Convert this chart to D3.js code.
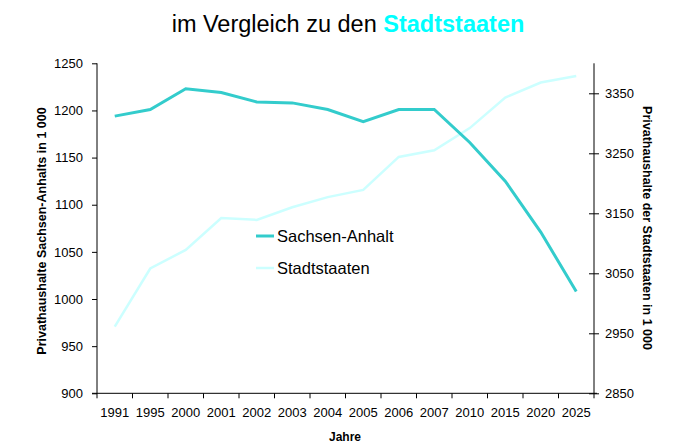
<!DOCTYPE html>
<html><head><meta charset="utf-8">
<script src="https://cdn.jsdelivr.net/npm/d3@7"></script>
<style>body{margin:0;background:#fff}svg{display:block;font-family:"Liberation Sans",Arial,sans-serif}</style>
</head><body><svg id="c" width="681" height="448"></svg>
<script>
const years = ["1991","1995","2000","2001","2002","2003","2004","2005","2006","2007","2010","2015","2020","2025"];
const sachsenAnhalt = [1194,1201,1223,1219,1209,1208,1201,1188,1201,1201,1166,1125,1071,1008];
const stadtstaaten = [2961,3058,3089,3142,3139,3160,3177,3189,3244,3255,3292,3343,3368,3379];
const leftTicks = [900,950,1000,1050,1100,1150,1200,1250];
const rightTicks = [2850,2950,3050,3150,3250,3350];

const svg = d3.select("#c");
const L = 97, R = 594, T = 63.3, B = 393.3;
const x = d3.scaleBand().domain(years).range([L, R]);
const yL = d3.scaleLinear().domain([900,1250]).range([B, T]);
const yR = d3.scaleLinear().domain([2850,3400]).range([B, T]);

// Title
const title = svg.append("text").attr("x", 348).attr("y", 32).attr("text-anchor","middle").style("font-size","23.5px");
title.append("tspan").attr("fill","#000").text("im Vergleich zu den ");
title.append("tspan").attr("fill","#00ffff").attr("font-weight","bold").text("Stadtstaaten");

// Left axis
const gl = svg.append("g").attr("transform",`translate(${L},0)`)
  .call(d3.axisLeft(yL).tickValues(leftTicks).tickSize(5).tickPadding(9).tickFormat(d3.format("d")));
gl.selectAll("text").style("font-size","13px").attr("fill","#000");
gl.select(".domain").attr("stroke","#000").attr("d",`M0,${T}V${B+5}`);

// Right axis
const gr = svg.append("g").attr("transform",`translate(${R},0)`)
  .call(d3.axisRight(yR).tickValues(rightTicks).tickSize(5).tickPadding(6).tickFormat(d3.format("d")));
gr.selectAll("text").style("font-size","13px").attr("fill","#000");
gr.selectAll(".tick line").attr("x1",-5).attr("x2",5);
gr.select(".domain").attr("stroke","#000").attr("d",`M0,${T}V${B}`);

// X axis
const gx = svg.append("g").attr("transform",`translate(0,${B})`)
  .call(d3.axisBottom(x).tickSize(0).tickPadding(14));
gx.selectAll("text").style("font-size","13px").attr("fill","#000");
gx.select(".domain").attr("stroke","#000").attr("d",`M${L-5},0H${R+3}`);
gx.selectAll(".xt").data(years).enter().append("line")
  .attr("x1",(d,i)=>L+(i+1)*x.bandwidth()).attr("x2",(d,i)=>L+(i+1)*x.bandwidth())
  .attr("y1",0).attr("y2",5).attr("stroke","#000");

// Axis titles
svg.append("text").attr("transform","translate(46,231) rotate(-90)").attr("text-anchor","middle")
  .style("font-size","12.5px").style("font-weight","bold").text("Privathaushalte Sachsen-Anhalts in 1 000");
svg.append("text").attr("transform","translate(643,228) rotate(90)").attr("text-anchor","middle")
  .style("font-size","12.5px").style("font-weight","bold").text("Privathaushalte der Stadtstaaten in 1 000");
svg.append("text").attr("x",345).attr("y",441).attr("text-anchor","middle")
  .style("font-size","12px").style("font-weight","bold").text("Jahre");

const cx = d => x(d) + x.bandwidth()/2;
// Lines
svg.append("path").datum(stadtstaaten).attr("fill","none").attr("stroke","#ccffff").attr("stroke-width",2.5)
  .attr("d", d3.line().x((d,i)=>cx(years[i])).y(d=>yR(d)));
svg.append("path").datum(sachsenAnhalt).attr("fill","none").attr("stroke","#33cccc").attr("stroke-width",3)
  .attr("d", d3.line().x((d,i)=>cx(years[i])).y(d=>yL(d)));

// Legend
const legend = [{n:"Sachsen-Anhalt",c:"#33cccc",w:3},{n:"Stadtstaaten",c:"#ccffff",w:2.5}];
legend.forEach((d,i)=>{
  const y0 = 236 + i*32;
  svg.append("line").attr("x1",256).attr("x2",274).attr("y1",y0).attr("y2",y0).attr("stroke",d.c).attr("stroke-width",d.w);
  svg.append("text").attr("x",277).attr("y",y0+6).style("font-size","16.5px").attr("fill","#000").text(d.n);
});
</script></body></html>
